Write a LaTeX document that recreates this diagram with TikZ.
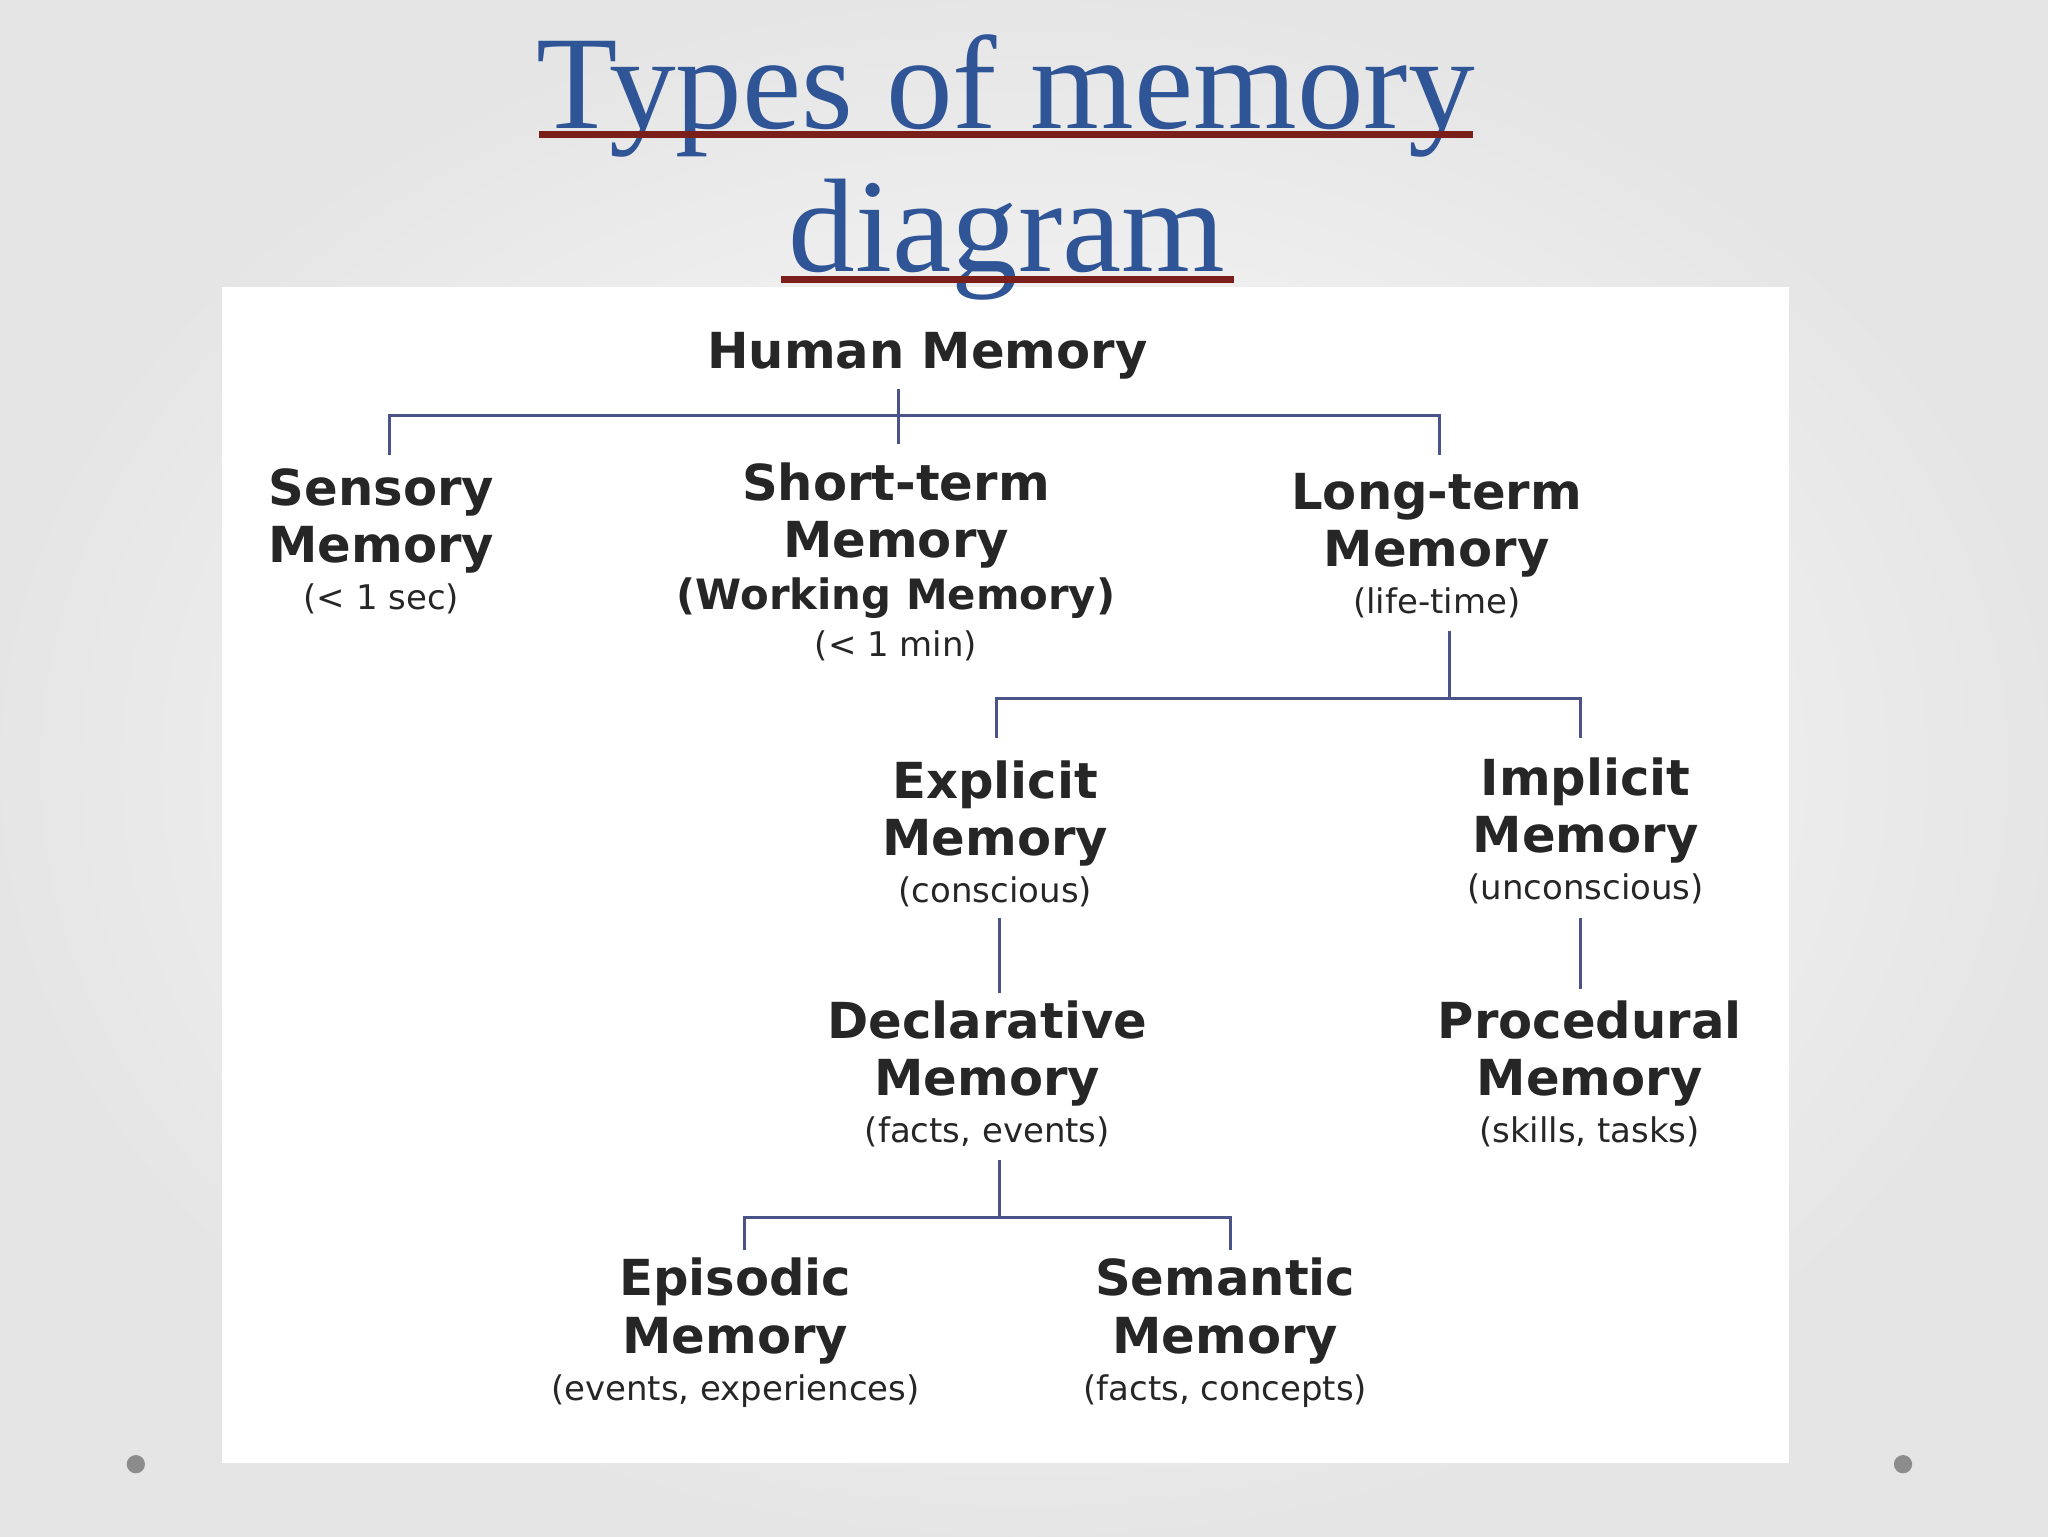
\documentclass[tikz,border=0pt]{standalone}
\usepackage{fontspec}
\setmainfont{Liberation Serif}
\newfontfamily\dv{DejaVu Sans}
\usetikzlibrary{shadings}
\definecolor{ttl}{HTML}{2F5597}
\definecolor{uline}{HTML}{7A1F1A}
\definecolor{lnk}{HTML}{4A5488}
\newcommand\subt[1]{{\fontsize{26}{30}\selectfont\mdseries #1}}
\begin{document}
\begin{tikzpicture}[x=1pt,y=-1pt,
  mem/.style={font=\dv\bfseries\fontsize{38}{44}\selectfont, align=center, inner sep=0pt, anchor=base, text=black!85},
  lk/.style={draw=lnk, line width=2.5pt}]
\useasboundingbox (0,0) rectangle (1568,1176);
\shade[inner color=white, outer color=black!10] (0,0) rectangle (1568,1176);
\fill[white] (170,220) rectangle (1370,1120);
\fill[black!45] (104,1121) circle (7);
\fill[black!45] (1457,1121) circle (7);
% title
\node[font=\fontsize{102}{100}\selectfont, text=ttl, anchor=base] (t1) at (770,98) {Types of memory};
\node[font=\fontsize{102}{100}\selectfont, text=ttl, anchor=base] (t2) at (771,208) {diagram};
\draw[uline, line width=5pt] (413,103) -- (1128,103);
\draw[uline, line width=5pt] (598,214) -- (945,214);
% nodes (base anchor = last line baseline)
\node[mem] (hm) at (710,282) {Human Memory};
\node[mem] (sen) at (292,467) {Sensory\\Memory\\[-8pt]\subt{(< 1 sec)}};
\node[mem] (st) at (686,503) {Short-term\\Memory\\[-4pt]{\fontsize{32}{36}\selectfont (Working Memory)}\\[-8pt]\subt{(< 1 min)}};
\node[mem] (lt) at (1100,470) {Long-term\\Memory\\[-8pt]\subt{(life-time)}};
\node[mem] (ex) at (762,691) {Explicit\\Memory\\[-8pt]\subt{(conscious)}};
\node[mem] (im) at (1214,689) {Implicit\\Memory\\[-8pt]\subt{(unconscious)}};
\node[mem] (de) at (756,875) {Declarative\\Memory\\[-8pt]\subt{(facts, events)}};
\node[mem] (pr) at (1217,875) {Procedural\\Memory\\[-8pt]\subt{(skills, tasks)}};
\node[mem] (ep) at (563,1072) {Episodic\\Memory\\[-8pt]\subt{(events, experiences)}};
\node[mem] (se) at (938,1072) {Semantic\\Memory\\[-8pt]\subt{(facts, concepts)}};
% connectors
\draw[lk] (688,298) -- (688,340);
\draw[lk] (298,348) -- (298,318) -- (1102,318) -- (1102,348);
\draw[lk] (1110,483) -- (1110,535);
\draw[lk] (763,565) -- (763,535) -- (1210,535) -- (1210,565);
\draw[lk] (765,703) -- (765,760);
\draw[lk] (1210,703) -- (1210,757);
\draw[lk] (765,888) -- (765,932);
\draw[lk] (570,957) -- (570,932) -- (942,932) -- (942,957);
\end{tikzpicture}
\end{document}
